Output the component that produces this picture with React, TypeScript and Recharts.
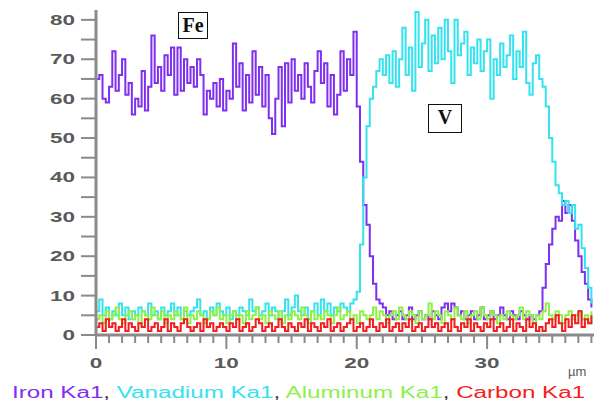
import { LineChart, Line, XAxis, YAxis } from 'recharts';

// EDS line scan, sampled every 0.25 µm from 0 to 38 µm
const STEP_UM = 0.25;

const ironKa1 = [
  65, 66, 60, 59, 63, 72, 62, 66, 70, 61, 64, 56, 60, 58, 67, 57, 63, 76, 64, 68,
  62, 71, 66, 73, 61, 73, 62, 70, 64, 68, 63, 70, 66, 56, 62, 60, 64, 58, 65, 57,
  62, 60, 74, 63, 69, 57, 66, 59, 72, 61, 68, 58, 66, 55, 51, 60, 68, 53, 69, 59,
  70, 62, 66, 60, 69, 63, 59, 67, 72, 64, 69, 58, 66, 56, 61, 72, 62, 70, 66, 77,
  58, 44, 33, 28, 20, 13, 9, 8, 7, 5, 6, 4, 5, 6, 4, 5, 7, 4, 5, 6,
  4, 5, 4, 6, 5, 4, 7, 8, 6, 8, 7, 5, 6, 4, 5, 6, 4, 5, 7, 4,
  5, 6, 4, 5, 7, 5, 4, 6, 5, 4, 6, 5, 4, 5, 4, 5, 6, 12, 18, 23,
  27, 30, 29, 34, 31, 33, 29, 24, 20, 16, 13, 9, 7,
];

const vanadiumKa1 = [
  6, 9, 5, 7, 4, 6, 5, 8, 5, 7, 4, 6, 5, 7, 6, 5, 8, 5, 6, 4,
  7, 5, 6, 8, 5, 7, 4, 6, 5, 6, 7, 9, 5, 6, 4, 7, 5, 8, 6, 5,
  7, 4, 6, 5, 7, 6, 5, 9, 6, 7, 5, 6, 8, 5, 7, 6, 4, 6, 9, 5,
  7, 10, 6, 5, 7, 4, 6, 8, 5, 9, 6, 8, 5, 7, 6, 8, 7, 6, 8, 9,
  11, 23, 40, 53, 60, 63, 67, 70, 66, 71, 64, 72, 63, 70, 78, 66, 73, 62, 82, 68,
  74, 80, 67, 76, 69, 78, 70, 80, 72, 64, 80, 71, 74, 77, 66, 73, 69, 75, 67, 72,
  75, 60, 70, 66, 74, 68, 71, 76, 65, 72, 68, 77, 64, 61, 69, 71, 65, 63, 58, 50,
  44, 38, 36, 33, 34, 31, 33, 27, 28, 22, 17, 12, 8,
];

const aluminumKa1 = [
  4, 5, 3, 6, 4, 5, 7, 4, 3, 5, 6, 4, 5, 3, 6, 5, 4, 7, 5, 4,
  6, 3, 5, 4, 6, 5, 4, 7, 3, 5, 4, 6, 5, 3, 4, 6, 5, 7, 4, 5,
  3, 5, 6, 4, 5, 3, 6, 4, 5, 7, 4, 5, 3, 6, 5, 4, 6, 3, 5, 4,
  6, 5, 4, 7, 5, 3, 6, 4, 5, 4, 6, 5, 3, 5, 7, 4, 5, 6, 4, 5,
  3, 6, 5, 4, 5, 7, 4, 6, 5, 3, 5, 6, 4, 7, 5, 4, 6, 5, 3, 6,
  4, 5, 8, 4, 6, 5, 3, 6, 5, 4, 7, 5, 4, 6, 3, 5, 6, 4, 7, 5,
  4, 6, 5, 3, 5, 4, 6, 5, 4, 5, 7, 4, 6, 5, 3, 5, 4, 6, 8, 5,
  4, 6, 5, 3, 5, 6, 4, 5, 6, 4, 5, 3, 6,
];

const carbonKa1 = [
  2, 3, 1, 4, 2, 3, 1, 2, 4, 1, 3, 2, 1, 3, 2, 4, 1, 2, 3, 1,
  2, 4, 1, 3, 2, 1, 3, 4, 2, 1, 2, 3, 1, 4, 2, 3, 1, 2, 3, 2,
  1, 3, 2, 4, 1, 2, 3, 1, 2, 4, 3, 1, 2, 3, 1, 2, 4, 2, 1, 3,
  2, 1, 3, 2, 4, 1, 3, 2, 1, 3, 2, 4, 1, 2, 3, 1, 2, 3, 4, 1,
  2, 3, 1, 2, 4, 2, 1, 3, 2, 4, 1, 2, 3, 1, 3, 2, 4, 1, 2, 3,
  1, 2, 4, 2, 3, 1, 2, 3, 1, 4, 2, 1, 3, 2, 4, 1, 3, 2, 1, 3,
  2, 4, 1, 2, 3, 1, 2, 4, 1, 3, 2, 1, 4, 2, 3, 1, 2, 1, 3, 4,
  2, 5, 3, 1, 4, 2, 5, 3, 6, 2, 4, 3, 5,
];

const xTicks = [
  0, 1, 2, 3, 4, 5, 6, 7, 8, 9, 10, 11, 12, 13, 14, 15, 16, 17, 18, 19,
  20, 21, 22, 23, 24, 25, 26, 27, 28, 29, 30, 31, 32, 33, 34, 35, 36, 37, 38,
];
const yTicks = [0, 5, 10, 15, 20, 25, 30, 35, 40, 45, 50, 55, 60, 65, 70, 75, 80];

const COLORS = {
  fe: '#7f2ff0',
  v: '#35e3ef',
  al: '#8ff04a',
  c: '#f51d1d',
};
const AXIS = '#8a8a8a';
const LABEL = '#5a5a5a';

const data = ironKa1.map((fe, i) => ({
  x: i * STEP_UM,
  fe,
  v: vanadiumKa1[i],
  al: aluminumKa1[i],
  c: carbonKa1[i],
}));

// y ticks: every 5, labelled every 10
const YTick = ({ x, y, payload }: any) => (
  <g>
    <line x1={x - 15} x2={x} y1={y} y2={y} stroke={AXIS} strokeWidth={2} />
    {payload.value % 10 === 0 && (
      <text
        transform={`translate(${x - 21},${y + 5}) scale(1.5,1)`}
        textAnchor="end"
        fill={LABEL}
        fontSize={15}
        fontWeight="bold"
        fontFamily="Liberation Sans, Arial, sans-serif"
      >
        {payload.value}
      </text>
    )}
  </g>
);

// x ticks: short every µm, long + label every 10
const XTick = ({ x, y, payload }: any) => {
  const major = payload.value % 10 === 0;
  return (
    <g>
      <line x1={x} x2={x} y1={y} y2={y + (major ? 14 : 8)} stroke={AXIS} strokeWidth={2} />
      {major && (
        <text
          transform={`translate(${x},${y + 33}) scale(1.5,1)`}
          textAnchor="middle"
          fill={LABEL}
          fontSize={15}
          fontWeight="bold"
          fontFamily="Liberation Sans, Arial, sans-serif"
        >
          {payload.value}
        </text>
      )}
    </g>
  );
};

const boxStyle = {
  position: 'absolute' as const,
  border: '1.5px solid #111',
  fontFamily: 'Liberation Serif, Times New Roman, serif',
  fontWeight: 'bold' as const,
  fontSize: 20,
  lineHeight: '24px',
  textAlign: 'center' as const,
  color: '#111',
  background: 'white',
};

export default function App() {
  return (
    <div style={{ position: 'absolute', left: 0, top: 0, width: 598, height: 401, background: 'white' }}>
      <LineChart
        width={598}
        height={401}
        data={data}
        margin={{ top: 10, right: 4, left: 0, bottom: 36 }}
      >
        <XAxis
          type="number"
          dataKey="x"
          domain={[0, 38.2]}
          ticks={xTicks}
          interval={0}
          height={30}
          tickSize={0}
          tickMargin={0}
          tick={<XTick />}
          axisLine={{ stroke: AXIS, strokeWidth: 3 }}
          allowDataOverflow
        />
        <YAxis
          type="number"
          domain={[0, 82.5]}
          ticks={yTicks}
          interval={0}
          width={96}
          tickSize={0}
          tickMargin={0}
          tick={<YTick />}
          axisLine={{ stroke: AXIS, strokeWidth: 3 }}
          allowDataOverflow
        />
        <Line type="stepAfter" dataKey="fe" stroke={COLORS.fe} strokeWidth={2} dot={false} isAnimationActive={false} />
        <Line type="stepAfter" dataKey="v" stroke={COLORS.v} strokeWidth={2} dot={false} isAnimationActive={false} />
        <Line type="stepAfter" dataKey="al" stroke={COLORS.al} strokeWidth={2} dot={false} isAnimationActive={false} />
        <Line type="stepAfter" dataKey="c" stroke={COLORS.c} strokeWidth={2} dot={false} isAnimationActive={false} />
      </LineChart>

      <div style={{ ...boxStyle, left: 178, top: 12, width: 28, height: 25 }}>Fe</div>
      <div style={{ ...boxStyle, left: 428, top: 104, width: 32, height: 27 }}>V</div>

      <div
        style={{
          position: 'absolute',
          left: 568,
          top: 364,
          fontSize: 13,
          color: LABEL,
          fontFamily: 'Liberation Sans, Arial, sans-serif',
        }}
      >
        µm
      </div>

      <div
        style={{
          position: 'absolute',
          left: 12,
          top: 384,
          whiteSpace: 'nowrap',
          fontSize: 16,
          fontFamily: 'Liberation Sans, Arial, sans-serif',
          transform: 'scaleX(1.51)',
          transformOrigin: 'left top',
          color: '#333',
        }}
      >
        <span style={{ color: COLORS.fe }}>Iron Ka1</span>,{' '}
        <span style={{ color: COLORS.v }}>Vanadium Ka1</span>,{' '}
        <span style={{ color: COLORS.al }}>Aluminum Ka1</span>,{' '}
        <span style={{ color: COLORS.c }}>Carbon Ka1</span>
      </div>
    </div>
  );
}
